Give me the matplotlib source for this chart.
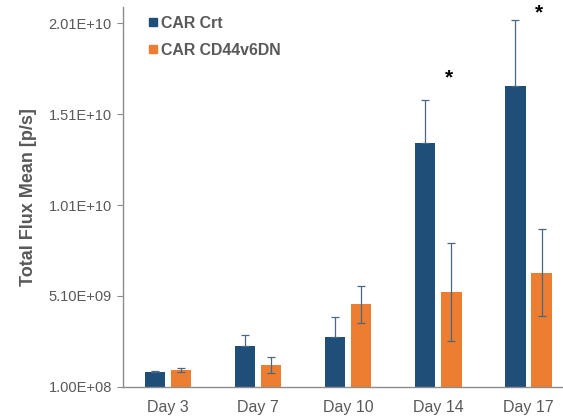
import matplotlib
matplotlib.use("Agg")
import matplotlib.pyplot as plt
import numpy as np
from matplotlib.lines import Line2D
from matplotlib.ticker import FuncFormatter

plt.rcParams['font.family'] = ['Liberation Sans', 'DejaVu Sans']

days = ["Day 3", "Day 7", "Day 10", "Day 14", "Day 17"]
series_names = ["CAR Crt", "CAR CD44v6DN"]
crt_mean = [0.89e9, 2.32e9, 2.85e9, 1.353e10, 1.667e10]
crt_err = [0.09e9, 0.61e9, 1.10e9, 2.33e9, 3.63e9]
dn_mean = [1.02e9, 1.28e9, 4.63e9, 5.31e9, 6.37e9]
dn_err = [0.09e9, 0.43e9, 1.01e9, 2.70e9, 2.40e9]
y_ticks = [1.00e8, 5.10e9, 1.01e10, 1.51e10, 2.01e10]
# significance markers: (category index, height)
stars = [(3, 1.71e10), (4, 2.07e10)]

BLUE = "#1F4E79"
ORANGE = "#ED7D31"
GRAY = "#595959"
ERR = "#4a6780"

W, H = 563, 416
fig = plt.figure(figsize=(W / 100, H / 100), dpi=100)
left, right, bottom, top = 123, 573.5, 386.7, 7
ax = fig.add_axes([left / W, (H - bottom) / H, (right - left) / W, (bottom - top) / H])

x = np.arange(len(days))
bw = 0.225
off = 0.145
ax.bar(x - off, crt_mean, width=bw, color=BLUE, zorder=2)
ax.bar(x + off, dn_mean, width=bw, color=ORANGE, zorder=2)
ekw = dict(fmt="none", ecolor=ERR, elinewidth=0.9, capsize=2.6, capthick=0.9, zorder=3)
# control series: upper whisker only; CD44v6DN series: both directions
ax.errorbar(x - off, crt_mean, yerr=[np.zeros(len(days)), crt_err], **ekw)
ax.errorbar(x + off, dn_mean, yerr=dn_err, **ekw)

for i, h in stars:
    ax.text(i + 0.12, h, "*", ha="center", va="center", fontsize=15,
            fontweight="bold", color="black", clip_on=False)

ax.set_xlim(-0.5, len(days) - 0.5)
ax.set_ylim(1e8, 2.1e10)
ax.set_yticks(y_ticks)
ax.yaxis.set_major_formatter(FuncFormatter(lambda v, p: "{:.2E}".format(v)))
ax.set_xticks(x)
ax.set_xticklabels(days)

for s in ["top", "right"]:
    ax.spines[s].set_visible(False)
for s in ["left", "bottom"]:
    ax.spines[s].set_color("#8c8c8c")
    ax.spines[s].set_linewidth(1.0)

ax.tick_params(axis="y", length=4, width=0.8, color="#8c8c8c", labelsize=10.5,
               labelcolor=GRAY, pad=4)
ax.tick_params(axis="x", length=0, labelsize=11.5, labelcolor=GRAY, pad=9.5)

ax.set_ylabel("Total Flux Mean [p/s]", fontsize=13, fontweight="bold",
              color=GRAY, labelpad=8)

handles = [Line2D([], [], marker="s", linestyle="none", markersize=5.5,
                  color=c) for c in (BLUE, ORANGE)]
leg = ax.legend(handles, series_names, loc="upper left",
                bbox_to_anchor=(148 / W, 1 - 16 / H), bbox_transform=fig.transFigure,
                frameon=False, handlelength=0.6, handletextpad=0.2,
                labelspacing=0.75, borderpad=0, borderaxespad=0,
                prop={"weight": "bold", "size": 11.4})
for t in leg.get_texts():
    t.set_color(GRAY)

fig.savefig("out.png", dpi=100, facecolor="white")
